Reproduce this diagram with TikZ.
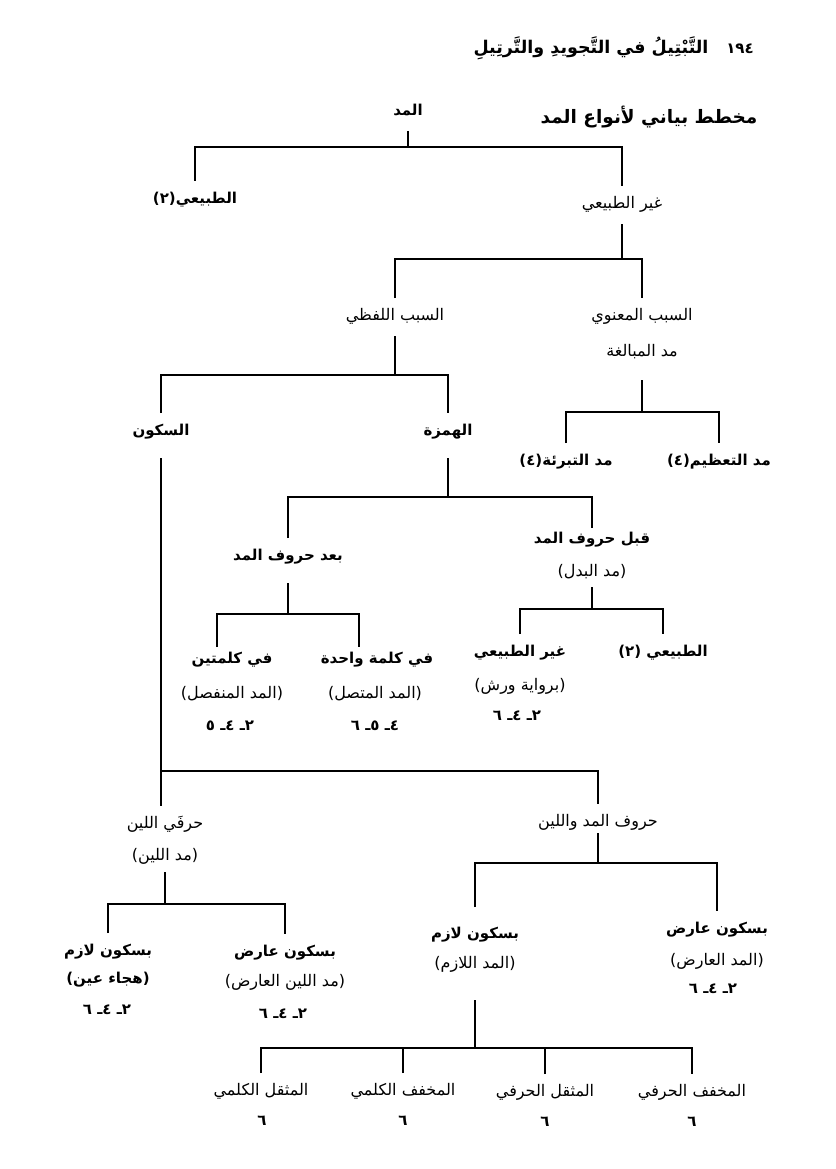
\documentclass[tikz,border=0pt]{standalone}
\usepackage{fontspec}
\newfontfamily\arfont[Script=Arabic]{DejaVu Sans}
\TeXXeTstate=1
\newcommand\artxt[1]{\beginR#1\endR}

\begin{document}
\begin{tikzpicture}[x=1pt, y=-1pt,
    lbl/.style={font=\arfont\fontsize{16}{19}\selectfont, inner sep=0pt,
        text height=12.5pt, text depth=5.5pt, outer ysep=10pt},
    lblb/.style={lbl, font=\arfont\bfseries\fontsize{15}{18}\selectfont},
    hdr/.style={lblb, font=\arfont\bfseries\fontsize{17.5}{21}\selectfont},
    ttl/.style={lblb, font=\arfont\bfseries\fontsize{18.5}{22}\selectfont},
    link/.style={line width=1.4pt}]
    \useasboundingbox (0,0) rectangle (835,1169);

    % Running head and title
    \node[lblb] (pagenum) at (740,50) {\artxt{١٩٤}};
    \node[hdr] (runhead) at (591,50) {\artxt{التَّبْتِيلُ في التَّجويدِ والتَّرتِيلِ}};
    \node[ttl] (charttitle) at (649,120) {\artxt{مخطط بياني لأنواع المد}};

    % Top levels
    \node[lblb] (madd) at (408,112) {\artxt{المد}};
    \node[lblb] (tabii) at (195,200) {\artxt{الطبيعي(٢)}};
    \node[lbl] (ghayr) at (622,205) {\artxt{غير الطبيعي}};
    \node[lbl] (lafzi) at (395,317) {\artxt{السبب اللفظي}};
    \node[lbl] (manawi) at (642,317) {\artxt{السبب المعنوي}};
    \node[lbl] (mubalagha) at (642,353) {\artxt{مد المبالغة}};
    \node[lblb] (tabria) at (566,462) {\artxt{مد التبرئة(٤)}};
    \node[lblb] (taazim) at (719,462) {\artxt{مد التعظيم(٤)}};
    \node[lblb] (sukun) at (161,432) {\artxt{السكون}};
    \node[lblb] (hamza) at (448,432) {\artxt{الهمزة}};

    % Hamza branch
    \node[lblb] (baad) at (288,557) {\artxt{بعد حروف المد}};
    \node[lblb] (qabl) at (592,540) {\artxt{قبل حروف المد}};
    \node[lbl] (badal) at (592,573) {\artxt{(مد البدل)}};
    \node[lblb] (kalimatain) at (232,660) {\artxt{في كلمتين}};
    \node[lbl] (munfasil) at (232,695) {\artxt{(المد المنفصل)}};
    \node[lblb] (munfasilnum) at (230,727) {\artxt{٢ـ ٤ـ ٥}};
    \node[lblb] (wahida) at (377,660) {\artxt{في كلمة واحدة}};
    \node[lbl] (muttasil) at (375,695) {\artxt{(المد المتصل)}};
    \node[lblb] (muttasilnum) at (375,727) {\artxt{٤ـ ٥ـ ٦}};
    \node[lblb] (badalghayr) at (520,653) {\artxt{غير الطبيعي}};
    \node[lbl] (warsh) at (520,687) {\artxt{(برواية ورش)}};
    \node[lblb] (warshnum) at (517,717) {\artxt{٢ـ ٤ـ ٦}};
    \node[lblb] (badaltabii) at (663,653) {\artxt{الطبيعي (٢)}};

    % Sukun branch
    \node[lbl] (harfaleen) at (165,825) {\artxt{حرفَي اللين}};
    \node[lbl] (maddleen) at (165,857) {\artxt{(مد اللين)}};
    \node[lbl] (huruf) at (598,823) {\artxt{حروف المد واللين}};
    \node[lblb] (leenlazim) at (108,952) {\artxt{بسكون لازم}};
    \node[lblb] (hija) at (108,980) {\artxt{(هجاء عين)}};
    \node[lblb] (hijanum) at (107,1011) {\artxt{٢ـ ٤ـ ٦}};
    \node[lblb] (leenarid) at (285,953) {\artxt{بسكون عارض}};
    \node[lbl] (leenaridb) at (285,983) {\artxt{(مد اللين العارض)}};
    \node[lblb] (leenaridnum) at (283,1015) {\artxt{٢ـ ٤ـ ٦}};
    \node[lblb] (lazim) at (475,935) {\artxt{بسكون لازم}};
    \node[lbl] (lazimb) at (475,965) {\artxt{(المد اللازم)}};
    \node[lblb] (arid) at (717,930) {\artxt{بسكون عارض}};
    \node[lbl] (aridb) at (717,962) {\artxt{(المد العارض)}};
    \node[lblb] (aridnum) at (713,990) {\artxt{٢ـ ٤ـ ٦}};

    % Lazim sub-kinds
    \node[lbl] (muthaqqalk) at (261,1092) {\artxt{المثقل الكلمي}};
    \node[lblb] (muthaqqalknum) at (262,1122) {\artxt{٦}};
    \node[lbl] (mukhaffafk) at (403,1092) {\artxt{المخفف الكلمي}};
    \node[lblb] (mukhaffafknum) at (403,1122) {\artxt{٦}};
    \node[lbl] (muthaqqalh) at (545,1093) {\artxt{المثقل الحرفي}};
    \node[lblb] (muthaqqalhnum) at (545,1123) {\artxt{٦}};
    \node[lbl] (mukhaffafh) at (692,1093) {\artxt{المخفف الحرفي}};
    \node[lblb] (mukhaffafhnum) at (692,1123) {\artxt{٦}};

    % Bar heights
    \coordinate (bar0) at (0,147);
    \coordinate (bar1) at (0,259);
    \coordinate (bar2) at (0,412);
    \coordinate (bar3) at (0,375);
    \coordinate (bar4) at (0,497);
    \coordinate (bar5) at (0,614);
    \coordinate (bar6) at (0,609);
    \coordinate (bar7) at (0,771);
    \coordinate (bar8) at (0,904);
    \coordinate (bar9) at (0,863);
    \coordinate (bar10) at (0,1048);
    \coordinate (kalimatainx) at ([xshift=-15pt,yshift=-6pt]kalimatain.north);
    \coordinate (wahidax) at ([xshift=-18pt,yshift=-6pt]wahida.north);

    % Connectors
    \draw[link] (madd.south) -- (madd |- bar0);
    \draw[link] (tabii.north) |- (bar0 -| ghayr) -- (ghayr.north);
    \draw[link] (ghayr.south) -- (ghayr |- bar1);
    \draw[link] (lafzi.north) |- (bar1 -| manawi) -- (manawi.north);
    \draw[link] ([yshift=-8pt]mubalagha.south) -- (mubalagha |- bar2);
    \draw[link] (tabria.north) |- (bar2 -| taazim) -- (taazim.north);
    \draw[link] (lafzi.south) -- (lafzi |- bar3);
    \draw[link] (sukun.north) |- (bar3 -| hamza) -- (hamza.north);
    \draw[link] ([yshift=-7pt]hamza.south) -- (hamza |- bar4);
    \draw[link] (baad.north) |- (bar4 -| qabl) -- ([yshift=-7pt]qabl.north);
    \draw[link] ([yshift=-7pt]baad.south) -- (baad |- bar5);
    \draw[link] (kalimatainx) |- (bar5 -| wahidax) -- (wahidax);
    \draw[link] ([yshift=5pt]badal.south) -- (badal |- bar6);
    \draw[link] (badalghayr.north) |- (bar6 -| badaltabii) -- (badaltabii.north);
    \draw[link] ([yshift=-7pt]sukun.south) -- (harfaleen.north -| sukun);
    \draw[link] (sukun |- bar7) -| (huruf.north);
    \draw[link] ([yshift=4pt]maddleen.south) -- (maddleen |- bar8);
    \draw[link] (leenlazim.north) |- (bar8 -| leenarid) -- (leenarid.north);
    \draw[link] ([yshift=9pt]huruf.south) -- (huruf |- bar9);
    \draw[link] ([yshift=9pt]lazim.north) |- (bar9 -| arid) -- (arid.north);
    \draw[link] ([yshift=-16pt]lazimb.south) -- (lazimb |- bar10);
    \draw[link] (muthaqqalk.north) |- (bar10 -| mukhaffafh) -- (mukhaffafh.north);
    \draw[link] (mukhaffafk.north) -- (mukhaffafk |- bar10);
    \draw[link] (muthaqqalh.north) -- (muthaqqalh |- bar10);
\end{tikzpicture}
\end{document}
